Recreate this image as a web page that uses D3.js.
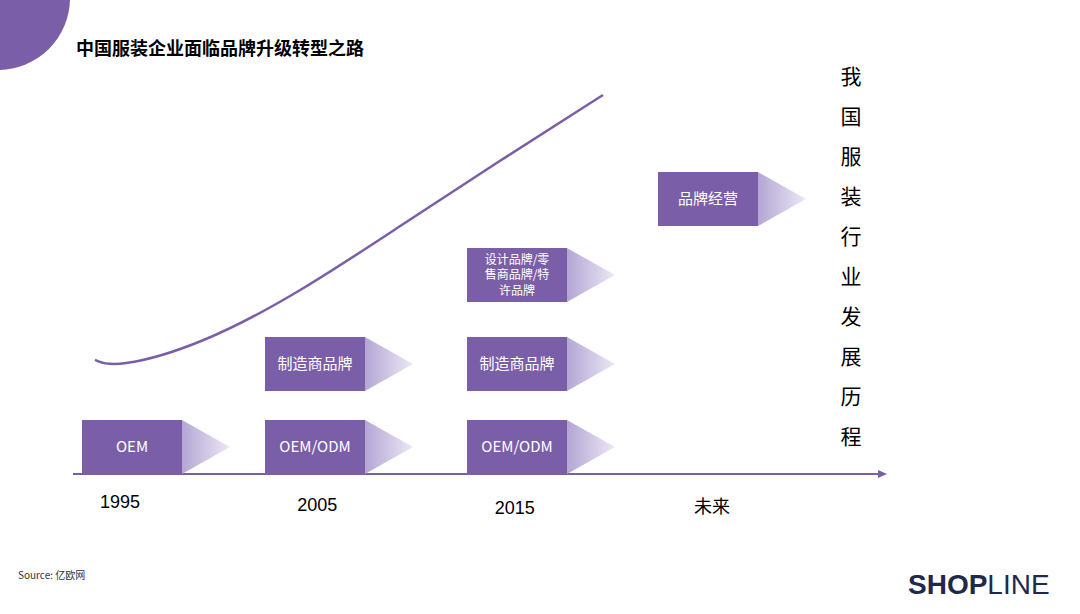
<!DOCTYPE html><html><head><meta charset="utf-8"><script src="https://cdn.jsdelivr.net/npm/d3@7"></script>
<style>body{margin:0;background:#fff}svg{font-family:"Noto Sans CJK SC","Noto Sans",sans-serif}</style></head><body>
<svg id="c" width="1080" height="614"></svg>
<script>
const periods=["1995","2005","2015","未来"];
const boxes=[
 {p:"1995",lvl:0,lines:["OEM"]},
 {p:"2005",lvl:0,lines:["OEM/ODM"]},
 {p:"2005",lvl:1,lines:["制造商品牌"]},
 {p:"2015",lvl:0,lines:["OEM/ODM"]},
 {p:"2015",lvl:1,lines:["制造商品牌"]},
 {p:"2015",lvl:2,lines:["设计品牌/零","售商品牌/特","许品牌"]},
 {p:"未来",lvl:3,lines:["品牌经营"]}];
const curveT=[0,0.1,0.52,1.01,1.5,1.99,2.5];
const curveV=[1.36,1.23,1.59,2.42,3.45,4.47,5.5];
const vertText="我国服装行业发展历程";
const svg=d3.select("#c");
const x=d3.scalePoint().domain(periods).range([120,712]);
const xc=d3.scaleLinear().domain([0,2.5]).range([95,603]);
const y=d3.scaleLinear().domain([0,5.5]).range([447,95]);
const lvlY=[420,337,248,172];
const boxX={"1995":82,"2005":265,"2015":467,"未来":658};
const col="#7a5fa8";
svg.append("circle").attr("cx",-2).attr("cy",-2).attr("r",72).attr("fill",col);
svg.append("text").attr("x",76).attr("y",55).attr("font-size",18).attr("font-weight","bold").text("中国服装企业面临品牌升级转型之路");
const defs=svg.append("defs");
const g=defs.append("linearGradient").attr("id","tg");
g.append("stop").attr("offset","0").attr("stop-color","#b3a6d4");
g.append("stop").attr("offset","1").attr("stop-color","#ece8f5");
svg.append("line").attr("x1",73).attr("x2",880).attr("y1",474).attr("y2",474).attr("stroke",col).attr("stroke-width",2);
svg.append("path").attr("d","M878,470L887,474L878,478Z").attr("fill",col);
periods.forEach((p,i)=>svg.append("text").attr("x",x(p)).attr("y",[508,511,514,513][i]).attr("text-anchor","middle").attr("font-size",18).attr("font-family","Liberation Sans,Noto Sans CJK SC").text(p));
svg.append("path").attr("d",d3.line().x((d,i)=>xc(curveT[i])).y(d=>y(d)).curve(d3.curveBasis)(curveV)).attr("fill","none").attr("stroke",col).attr("stroke-width",2.5);
boxes.forEach(b=>{
 const x0=boxX[b.p], y0=lvlY[b.lvl], w=100,h=54;
 svg.append("path").attr("d",`M${x0+w},${y0}L${x0+w+48},${y0+h/2}L${x0+w},${y0+h}Z`).attr("fill","url(#tg)");
 svg.append("rect").attr("x",x0).attr("y",y0).attr("width",w).attr("height",h).attr("fill",col);
 const n=b.lines.length, fs=n>1?12:15, lh=15.5;
 b.lines.forEach((t,j)=>svg.append("text").attr("x",x0+w/2).attr("y",y0+h/2+(j-(n-1)/2)*lh+fs*0.36).attr("text-anchor","middle").attr("fill","#fff").attr("font-size",fs).text(t));
});
[...vertText].forEach((ch,i)=>svg.append("text").attr("x",851).attr("y",84+i*40).attr("text-anchor","middle").attr("font-size",21).text(ch));
svg.append("text").attr("x",18).attr("y",579).attr("font-size",10).attr("fill","#333").text("Source: 亿欧网");
const lg=svg.append("text").attr("x",908).attr("y",594).attr("font-size",28).attr("fill","#1f2a4a").attr("font-family","Liberation Sans");
lg.append("tspan").attr("font-weight","bold").text("SHOP");
lg.append("tspan").text("LINE");
</script></body></html>
